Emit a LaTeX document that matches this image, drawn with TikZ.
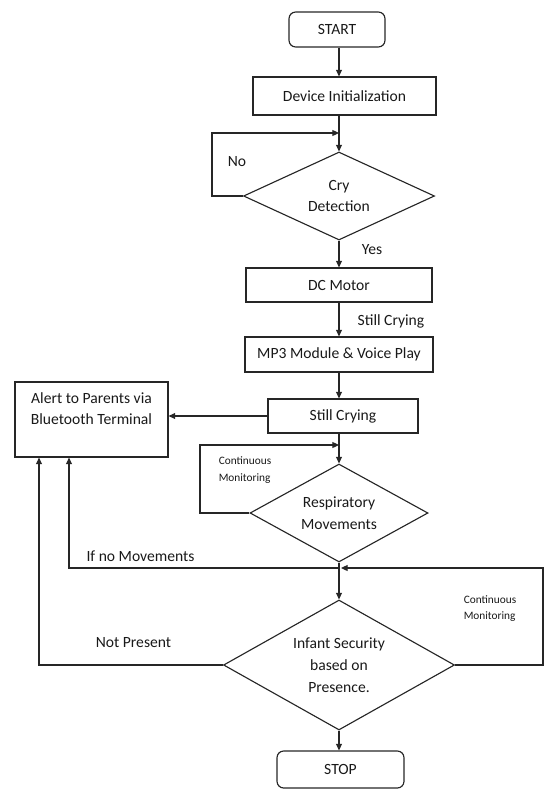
\documentclass[tikz,border=0pt]{standalone}
\usepackage{fontspec}
\setmainfont{Carlito}
\usetikzlibrary{shapes.geometric,arrows.meta}
\begin{document}
\begin{tikzpicture}[x=0.75pt,y=-0.75pt,
  line width=0.85pt, draw=black!85,
  every node/.style={font=\fontsize{11.7}{16.3}\selectfont, text=black!90},
  procbox/.style={draw, rectangle, inner sep=0pt, align=center},
  termbox/.style={draw, rectangle, rounded corners=5pt, inner sep=0pt, align=center},
  decbox/.style={draw, diamond, inner sep=0pt, align=center},
  arr/.style={-{Triangle[length=5pt,width=4.5pt]}},
  lbl/.style={inner sep=0pt},
  smalllbl/.style={inner sep=0pt, align=left, font=\fontsize{8.5}{12.5}\selectfont}]
\useasboundingbox (0,0) rectangle (545,789);

\node[termbox, minimum width=72pt, minimum height=26.25pt] (start) at (337,29.5) {START};
\node[procbox, minimum width=137.25pt, minimum height=28.5pt] (dev) at (344.5,96) {Device Initialization};
\node[decbox, minimum width=143.25pt, minimum height=66pt, aspect=2.17] (cry) at (339,196) {Cry\\Detection};
\node[procbox, minimum width=139.5pt, minimum height=25.5pt] (dc) at (339,285) {DC Motor};
\node[procbox, minimum width=141pt, minimum height=26.25pt] (mp3) at (339,354.5) {MP3 Module \& Voice Play};
\node[procbox, minimum width=112.5pt, minimum height=25.5pt] (sc) at (343,416) {Still Crying};
\node[procbox, minimum width=114.75pt, minimum height=56.25pt] (alert) at (91.5,419.5) {Alert to Parents via\\Bluetooth Terminal\\\mbox{}};
\node[decbox, minimum width=133.5pt, minimum height=73.5pt, aspect=1.82] (resp) at (339,513) {Respiratory\\Movements};
\node[decbox, minimum width=173.25pt, minimum height=97.5pt, aspect=1.78] (inf) at (339,665) {Infant Security\\based on\\Presence.};
\node[termbox, minimum width=95.25pt, minimum height=27.75pt] (stop) at (340.5,769.5) {STOP};

% coordinates
\coordinate (noc) at (212,133);
\coordinate (nojoin) at (339,133);
\coordinate (cmc) at (200,445);
\coordinate (cmjoin) at (339,445);
\coordinate (jn) at (339,568);
\coordinate (jr) at (341,568);
\coordinate (nmc) at (69,568);
\coordinate (npx) at (39,600);
\coordinate (rc) at (543,568);

% connectors
\draw[arr] (start.south -| cry.north) -- (dev.north -| cry.north);
\draw[arr] (dev.south -| cry.north) -- (cry.north);
\draw[arr] (cry.west) -| (noc) -- (nojoin);
\draw[arr] (cry.south) -- (dc.north);
\draw[arr] (dc.south) -- (mp3.north);
\draw[arr] (mp3.south) -- (sc.north -| mp3.south);
\draw[arr] (sc.west) -- (alert.east |- sc.west);
\draw[arr] (sc.south -| resp.north) -- (resp.north);
\draw[arr] (resp.west) -| (cmc) -- (cmjoin);
\draw[arr] (resp.south) -- (inf.north);
\draw[arr] (jn) -- (nmc) -- (nmc |- alert.south);
\draw[arr] (inf.west) -| (npx |- alert.south);
\draw[arr] (inf.east) -| (rc) -- (jr);
\draw[arr] (inf.south) -- (stop.north -| inf.south);

% labels
\node[lbl] (lno) at (237,162) {No};
\node[lbl] (lyes) at (372,250) {Yes};
\node[lbl] (lstill) at (391,321) {Still Crying};
\node[smalllbl] (lcm1) at (245,470) {Continuous\\Monitoring};
\node[smalllbl] (lcm2) at (490,608.5) {Continuous\\Monitoring};
\node[lbl] (lnomov) at (140.5,556) {If no Movements};
\node[lbl] (lnp) at (133.5,643) {Not Present};
\end{tikzpicture}
\end{document}
